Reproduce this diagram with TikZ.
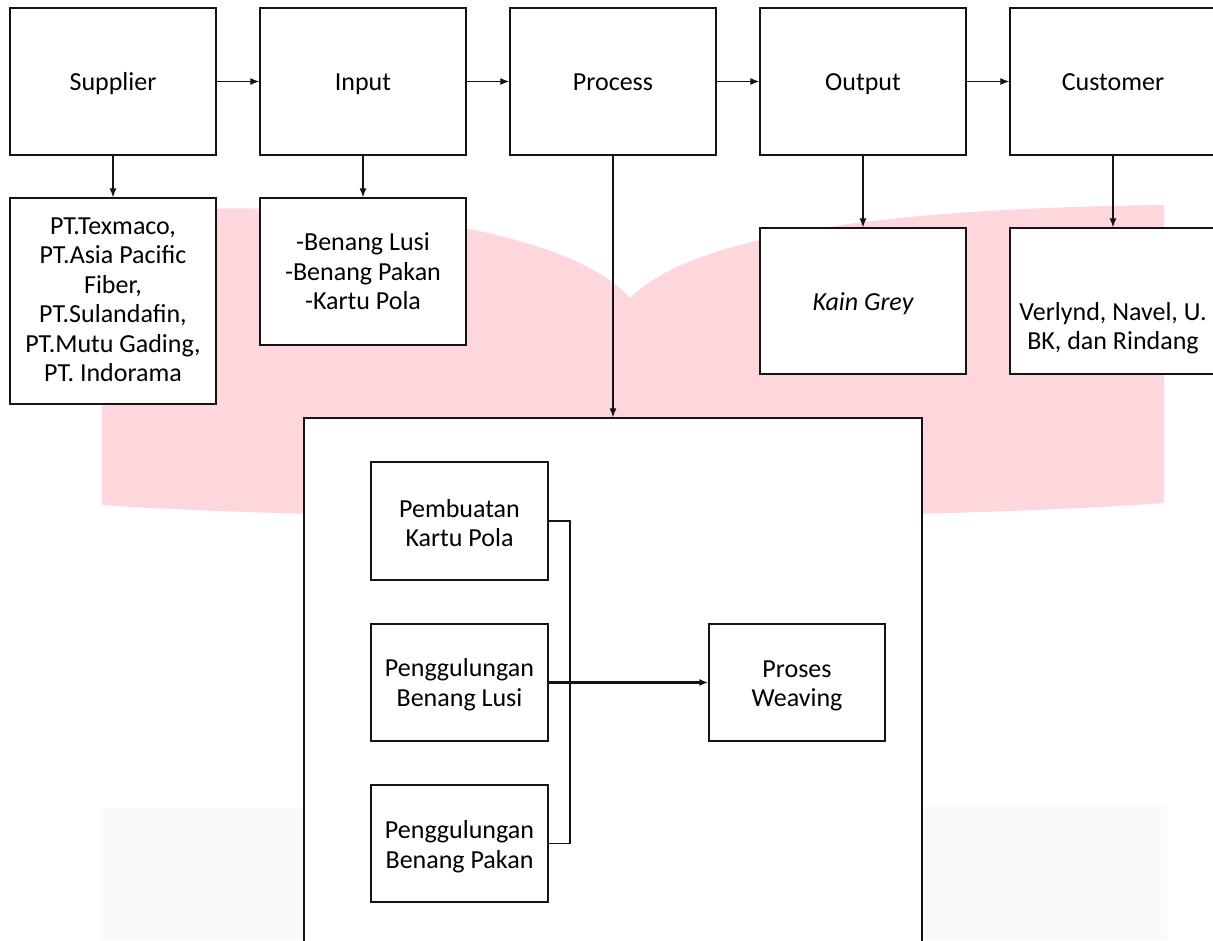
\documentclass[tikz,border=0pt]{standalone}
\usepackage{fontspec}
\setmainfont{Carlito}
\usetikzlibrary{arrows.meta}
\definecolor{pinkwm}{RGB}{253,215,220}
\definecolor{graywm}{RGB}{250,250,250}
\definecolor{linec}{RGB}{20,20,20}
\newcommand\topst{\rule{0pt}{27.6pt}}
\newcommand\botst{\rule[-8.85pt]{0pt}{8.85pt}}
\tikzset{
  box/.style={draw=linec, line width=1.3pt, fill=white, inner sep=0pt, align=center,
    font=\fontsize{26}{29.5}\selectfont, execute at begin node=\topst, execute at end node=\botst},
  plain/.style={draw=linec, line width=1.3pt, fill=white, inner sep=0pt},
  mtxt/.style={inner sep=0pt, align=center, font=\fontsize{26}{29.5}\selectfont},
  arr/.style={draw=linec, line width=1.2pt, -{Latex[length=9pt,width=7pt]}},
  ln/.style={draw=linec, line width=1.2pt},
}
\begin{document}
\begin{tikzpicture}[x=1pt,y=-1pt]
\useasboundingbox (0,0) rectangle (1213,940);
% watermark background
\fill[pinkwm] (102,505) -- (102,215) .. controls (300,195) and (560,220) .. (630,298)
  .. controls (700,228) and (920,208) .. (1164,205) -- (1164,503)
  .. controls (900,522) and (350,522) .. (102,505) -- cycle;
\fill[graywm] (100,808) -- (1167,806) -- (1167,940) -- (100,940) -- cycle;
% top row
\node[box, minimum width=206pt, minimum height=147pt] (sup) at (113,81.5) {Supplier};
\node[box, minimum width=206pt, minimum height=147pt] (inp) at (363,81.5) {Input};
\node[box, minimum width=206pt, minimum height=147pt] (proc) at (613,81.5) {Process};
\node[box, minimum width=206pt, minimum height=147pt] (out) at (863,81.5) {Output};
\node[box, minimum width=206pt, minimum height=147pt] (cust) at (1113,81.5) {Customer};
% second row
\node[plain, minimum width=206pt, minimum height=206pt] (supL) at (113,301) {};
\node[mtxt] (supT) at (113,300)
  {PT.Texmaco,\\PT.Asia Pacific\\Fiber,\\PT.Sulandafin,\\PT.Mutu Gading,\\PT. Indorama};
\node[plain, minimum width=206pt, minimum height=147pt] (inpL) at (363,271.5) {};
\node[mtxt] (inpT) at (363,271.5) {-Benang Lusi\\-Benang Pakan\\-Kartu Pola};
\node[box, minimum width=206pt, minimum height=146pt] (outL) at (863,301) {\itshape Kain Grey};
\node[plain, minimum width=206pt, minimum height=146pt] (custL) at (1113,301) {};
\node[mtxt] (custT) at (1113,328) {Verlynd, Navel, U.\\BK, dan Rindang};
% big process box
\node[plain, minimum width=618pt, minimum height=542pt] (big) at (613,689) {};
\node[plain, minimum width=177pt, minimum height=118pt] (pk) at (459.5,521) {};
\node[mtxt] (pkT) at (459.5,523) {Pembuatan\\Kartu Pola};
\node[plain, minimum width=177pt, minimum height=117pt] (pl) at (459.5,682.5) {};
\node[mtxt] (plT) at (459.5,684.5) {Penggulungan\\Benang Lusi};
\node[plain, minimum width=177pt, minimum height=117pt] (pp) at (459.5,843.5) {};
\node[mtxt] (ppT) at (459.5,846.5) {Penggulungan\\Benang Pakan};
\node[plain, minimum width=176pt, minimum height=117pt] (pw) at (797,682.5) {};
\node[mtxt] (pwT) at (797,686) {Proses\\Weaving};
\coordinate (bj) at (570,682.5);
% connectors
\draw[arr] (sup) -- (inp);
\draw[arr] (inp) -- (proc);
\draw[arr] (proc) -- (out);
\draw[arr] (out) -- (cust);
\draw[arr] (sup) -- (supL);
\draw[arr] (inp) -- (inpL);
\draw[arr] (out) -- (outL);
\draw[arr] (cust) -- (custL);
\draw[arr] (proc) -- (big);
\draw[ln] (pk.east) -| (bj) |- (pp.east);
\draw[arr, line width=2.2pt] (pl.east) -- (pw.west);
\end{tikzpicture}
\end{document}
